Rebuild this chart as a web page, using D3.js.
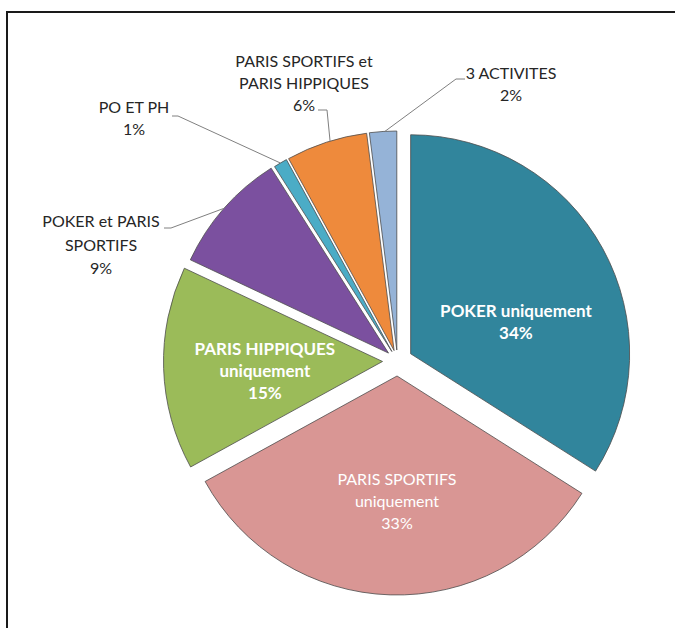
<!DOCTYPE html>
<html><head><meta charset="utf-8">
<script src="https://cdn.jsdelivr.net/npm/d3@7/dist/d3.min.js"></script>
<style>body{margin:0;background:#fff}svg{display:block}</style>
</head><body>
<script>
// ---- data ----
const categories = ["POKER uniquement","PARIS SPORTIFS uniquement","PARIS HIPPIQUES uniquement","POKER et PARIS SPORTIFS","PO ET PH","PARIS SPORTIFS et PARIS HIPPIQUES","3 ACTIVITES"];
const values = [34, 33, 15, 9, 1, 6, 2];
const labelLines = [["POKER uniquement"],["PARIS SPORTIFS","uniquement"],["PARIS HIPPIQUES","uniquement"],["POKER et PARIS","SPORTIFS"],["PO ET PH"],["PARIS SPORTIFS et","PARIS HIPPIQUES"],["3 ACTIVITES"]];
const colors = ["#31859C","#D99694","#9BBB59","#7B509F","#4BACC6","#EE8A3C","#95B3D7"];

// ---- style ----
const W = 675, H = 628;
const cx = 397.5, cy = 361, R = 219;
const explode = [15, 15, 15, 12, 11, 11, 11];
const inside = {0:{da:12, r:110, w:"bold", fs:17}, 1:{da:-1.8, r:125, w:"normal", fs:16}, 2:{da:-2.8, r:118, w:"bold", fs:17}};
const outside = {
  3:{x:101, y:227, lx:[164,171], ly:228, a:null, lh:23.5},
  4:{x:134, y:113, lx:[172,178], ly:116, a:null, lh:22},
  5:{x:304, y:67, lx:[318,327], ly:110, a:343, lh:22},
  6:{x:511, y:79, lx:[465,456], ly:79, a:356.9, lh:22}
};

const svg = d3.select("body").append("svg").attr("width", W).attr("height", H);
svg.append("rect").attr("width", W).attr("height", H).attr("fill", "#fff");
svg.append("path").attr("d", `M7,${H+5} L7,12 L${W+5},12`).attr("fill","none").attr("stroke","#1a1a1a").attr("stroke-width",2);

const pie = d3.pie().sort(null).value(d => d).startAngle(0).endAngle(2*Math.PI);
const arcs = pie(values);
const arc = d3.arc().innerRadius(0).outerRadius(R);

function apex(d, i){
  const m = (d.startAngle + d.endAngle)/2;
  return [cx + explode[i]*Math.sin(m), cy - explode[i]*Math.cos(m)];
}

const g = svg.append("g");
arcs.forEach((d, i) => {
  const [ax, ay] = apex(d, i);
  g.append("path").attr("d", arc(d)).attr("transform", `translate(${ax},${ay})`)
    .attr("fill", colors[i]).attr("stroke", "#4d4d4d").attr("stroke-width", 0.8).attr("stroke-linejoin","round");
});

const font = "Lato, 'Open Sans', sans-serif";
const fsOut = 16, lh = 22;

arcs.forEach((d, i) => {
  const [ax, ay] = apex(d, i);
  const m = (d.startAngle + d.endAngle)/2;
  const lines = labelLines[i].concat([values[i] + "%"]);
  if (inside[i]) {
    const o = inside[i];
    const a = m + o.da*Math.PI/180;
    const px = ax + o.r*Math.sin(a), py = ay - o.r*Math.cos(a);
    const y0 = py - (lines.length-1)*lh/2 + o.fs*0.35;
    const t = svg.append("text").attr("text-anchor","middle").attr("font-family",font)
      .attr("font-size",o.fs).attr("font-weight",o.w).attr("fill","#fff");
    lines.forEach((s, k) => t.append("tspan").attr("x", px).attr("y", y0 + k*lh).text(s));
  } else if (outside[i]) {
    const o = outside[i];
    const t = svg.append("text").attr("text-anchor","middle").attr("font-family",font)
      .attr("font-size",fsOut).attr("fill","#262626");
    lines.forEach((s, k) => t.append("tspan").attr("x", o.x).attr("y", o.y + k*o.lh).text(s));
    const a = (o.a === null ? m : o.a*Math.PI/180);
    const ex = ax + R*Math.sin(a), ey = ay - R*Math.cos(a);
    svg.append("path").attr("d", `M${o.lx[0]},${o.ly} L${o.lx[1]},${o.ly} L${ex},${ey}`)
      .attr("fill","none").attr("stroke","#808080").attr("stroke-width",1);
  }
});
</script>
</body></html>
